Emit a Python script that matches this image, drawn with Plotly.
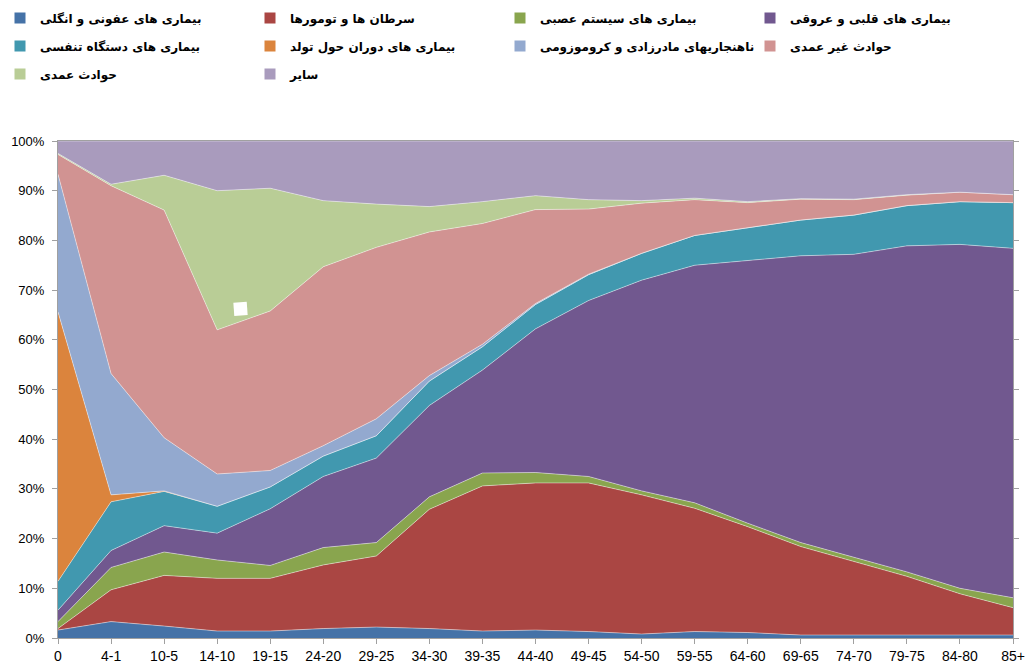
import plotly.graph_objects as go

# Age groups (as displayed, right-to-left reading)
age_groups = ["0", "4-1", "10-5", "14-10", "19-15", "24-20", "29-25", "34-30", "39-35",
              "44-40", "49-45", "54-50", "59-55", "64-60", "69-65", "74-70", "79-75",
              "84-80", "85+"]

# Share of deaths (%) by cause in each age group
infectious = [1.6, 3.3, 2.4, 1.4, 1.4, 1.9, 2.2, 1.9, 1.4, 1.6, 1.3, 0.8, 1.3, 1.1, 0.6, 0.6, 0.6, 0.6, 0.6]
cancers = [0.3, 6.4, 10.2, 10.6, 10.6, 12.8, 14.3, 24.0, 29.2, 29.6, 29.9, 28.0, 24.8, 21.3, 17.8, 14.8, 11.8, 8.3, 5.5]
nervous = [1.4, 4.5, 4.7, 3.7, 2.6, 3.5, 2.7, 2.5, 2.6, 2.1, 1.3, 0.8, 1.1, 0.7, 0.8, 0.8, 0.9, 1.1, 2.0]
cardio = [2.3, 3.4, 5.3, 5.4, 11.4, 14.3, 17.0, 18.4, 20.7, 28.9, 35.4, 42.4, 47.8, 52.9, 57.7, 61.0, 65.6, 69.2, 70.3]
respiratory = [5.8, 9.8, 6.9, 5.4, 4.4, 4.1, 4.5, 4.9, 4.7, 4.9, 5.2, 5.4, 6.0, 6.5, 7.2, 7.9, 8.1, 8.6, 9.2]
perinatal = [54.2, 1.4, 0.1, 0, 0, 0, 0, 0, 0, 0, 0, 0, 0, 0, 0, 0, 0, 0, 0]
congenital = [27.7, 24.4, 10.7, 6.5, 3.3, 2.1, 3.4, 1.1, 0.5, 0.2, 0.1, 0, 0, 0, 0, 0, 0, 0, 0]
unintentional = [4.0, 37.8, 45.8, 29.0, 32.1, 36.0, 34.5, 28.9, 24.3, 18.9, 13.1, 10.1, 7.2, 5.1, 4.2, 3.1, 2.1, 1.9, 1.6]
intentional = [0.2, 0.3, 7.0, 28.0, 24.7, 13.3, 8.7, 5.1, 4.4, 2.8, 1.9, 0.5, 0.3, 0.2, 0.1, 0.1, 0.1, 0.0, 0.0]
other = [2.5, 8.7, 6.9, 10.0, 9.5, 12.0, 12.7, 13.2, 12.2, 11.0, 11.8, 12.0, 11.5, 12.2, 11.6, 11.7, 10.8, 10.3, 10.8]

# Cause names, colours and legend row for each stacked series (bottom to top)
series = [
    ("بیماری های عفونی و انگلی ", infectious, "#4572A7", "legend"),
    ("سرطان ها و تومورها", cancers, "#AA4643", "legend"),
    ("بیماری های سیستم عصبی", nervous, "#89A54E", "legend"),
    ("بیماری های قلبی و عروقی", cardio, "#71588F", "legend"),
    ("بیماری های دستگاه تنفسی", respiratory, "#4198AF", "legend2"),
    ("بیماری های دوران حول تولد", perinatal, "#DB843D", "legend2"),
    ("ناهنجاریهای مادرزادی و کروموزومی", congenital, "#93A9CF", "legend2"),
    ("حوادث غیر عمدی", unintentional, "#D19392", "legend2"),
    ("حوادث عمدی", intentional, "#B9CD96", "legend3"),
    ("سایر", other, "#A99BBD", "legend3"),
]

fig = go.Figure()

for name, values, color, _ in series:
    fig.add_trace(go.Scatter(
        x=age_groups, y=values, name=name, legendgroup=name,
        stackgroup="all", groupnorm="percent", mode="lines",
        line=dict(color="rgba(255,255,255,0.55)", width=0.8),
        fillcolor=color, showlegend=False, hoverinfo="x+y+name",
    ))

# Square swatches for the legend rows
for name, values, color, legend_id in series:
    fig.add_trace(go.Scatter(
        x=[None], y=[None], name=name, legendgroup=name, legend=legend_id,
        mode="markers", marker=dict(symbol="square", size=11, color=color),
        showlegend=True,
    ))

# Plot area in pixels
W, H = 1027, 665
L, R, T, B = 58, 14, 141, 27
pw, ph = W - L - R, H - T - B


def px_to_paper_y(y_px):
    return (H - B - y_px) / ph


legend_font = dict(family="DejaVu Sans, sans-serif", size=12, color="#000000", weight="bold")
legend_common = dict(orientation="h", xref="paper", yref="paper", x=-L / pw, xanchor="left",
                     yanchor="middle", entrywidth=205, entrywidthmode="pixels",
                     font=legend_font, bgcolor="rgba(0,0,0,0)", itemwidth=30,
                     itemclick=False, itemdoubleclick=False)

# White marker square sitting in the upper band, in pixel corners
square_px = [(233.3, 302.7), (246.7, 301.7), (247.7, 315.0), (234.3, 316.0)]
square_path = "M " + " L ".join(
    f"{(x - L) / pw:.4f} {px_to_paper_y(y):.4f}" for x, y in square_px) + " Z"

fig.update_layout(
    width=W, height=H,
    margin=dict(l=L, r=R, t=T, b=B, autoexpand=False),
    paper_bgcolor="white", plot_bgcolor="white",
    legend=dict(legend_common, y=px_to_paper_y(18)),
    legend2=dict(legend_common, y=px_to_paper_y(46)),
    legend3=dict(legend_common, y=px_to_paper_y(74)),
    xaxis=dict(
        type="category", range=[0, 18], showgrid=False, zeroline=False,
        showline=True, linecolor="#A0A0A0", linewidth=1, mirror=True,
        ticks="outside", ticklen=5, tickcolor="#A0A0A0",
        tickfont=dict(family="Liberation Sans, Arial, sans-serif", size=14, color="#000000"),
    ),
    yaxis=dict(
        range=[0, 100], dtick=10, ticksuffix="%", showgrid=False, zeroline=False,
        showline=True, linecolor="#A0A0A0", linewidth=1, mirror="ticks",
        ticks="outside", ticklen=5, tickcolor="#A0A0A0", ticklabelstandoff=5,
        tickfont=dict(family="Liberation Sans, Arial, sans-serif", size=13, color="#000000"),
    ),
    shapes=[dict(type="path", xref="paper", yref="paper", path=square_path,
                 fillcolor="white", line=dict(width=0))],
)

fig.write_html("out.html")
